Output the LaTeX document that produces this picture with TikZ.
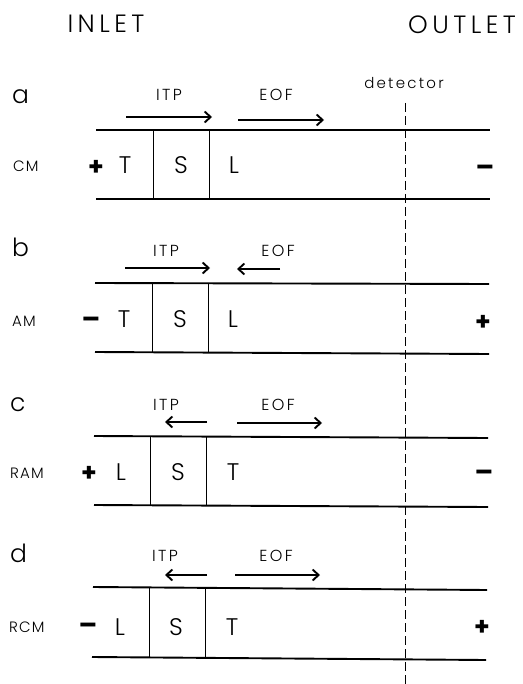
\documentclass[tikz,border=0pt]{standalone}
\usepackage{fontspec}
\setmainfont{Poppins}[UprightFont={* Light},BoldFont={* Bold}]
\usetikzlibrary{arrows.meta}

\begin{document}
\begin{tikzpicture}[x=1pt,y=-1pt,
  tube/.style={line width=1.9pt},
  zone/.style={line width=0.7pt},
  flow/.style={line width=1.9pt,-{Straight Barb[length=6pt,width=11pt,line width=1.9pt]}},
  probe/.style={line width=0.6pt,dash pattern=on 9pt off 4pt},
  head/.style={anchor=base,inner sep=0pt,font=\fontsize{25}{28}\selectfont\addfontfeature{LetterSpace=18}},
  panel/.style={anchor=base west,inner sep=0pt,font=\fontsize{25}{28}\selectfont},
  mode/.style={anchor=base west,inner sep=0pt,font=\fontsize{15}{16}\selectfont\addfontfeature{LetterSpace=8}},
  tag/.style={anchor=base,inner sep=0pt,font=\fontsize{16}{18}\selectfont\addfontfeature{LetterSpace=15}},
  ion/.style={anchor=base,inner sep=0pt,font=\fontsize{24}{28}\selectfont},
  possign/.style={anchor=base,inner sep=0pt,font=\bfseries\fontsize{25}{26}\selectfont},
  negsign/.style={anchor=base,inner sep=0pt,font=\bfseries\fontsize{27}{28}\selectfont},
  probetext/.style={anchor=base,inner sep=0pt,font=\fontsize{15}{16}\selectfont\addfontfeature{LetterSpace=15}}]

\useasboundingbox (0,0) rectangle (522,684);

% headings
\node[head] (inlet) at (106,33) {INLET};
\node[head] (outlet) at (462,34) {OUTLET};

% detector position
\node[probetext] (det) at (404,89) {detector};
\coordinate (detend) at (405,684);
\draw[probe] (405,103) -- (detend);

% ---------------- panel a ----------------
\coordinate (aTL) at (96,130);  \coordinate (aTR) at (490,130);
\coordinate (aBL) at (96,199);  \coordinate (aBR) at (490,199);
\draw[tube] (aTL) -- (aTR);
\draw[tube] (aBL) -- (aBR);
\draw[zone] (153,130) -- (153,199);
\draw[zone] (209,130) -- (209,199);
\node[panel] (alab) at (12,104) {a};
\node[mode] (amode) at (13,172) {CM};
\node[possign] (apos) at (96,176) {+};
\node[negsign] (aneg) at (485,177) {–};
\node[ion] (aT) at (125,174) {T};
\node[ion] (aS) at (181,174) {S};
\node[ion] (aL) at (234,174) {L};
\node[tag] (aitp) at (169,101) {ITP};
\node[tag] (aeof) at (276,101) {EOF};
\coordinate (aI0) at (126,117); \coordinate (aI1) at (212,117);
\coordinate (aE0) at (238,120); \coordinate (aE1) at (324,120);
\draw[flow] (aI0) -- (aI1);
\draw[flow] (aE0) -- (aE1);

% ---------------- panel b ----------------
\coordinate (bTL) at (95,283);  \coordinate (bTR) at (489,284);
\coordinate (bBL) at (95,352);  \coordinate (bBR) at (489,354);
\draw[tube] (bTL) -- (bTR);
\draw[tube] (bBL) -- (bBR);
\draw[zone] (152,283) -- (152,352);
\draw[zone] (208,283) -- (208,353);
\node[panel] (blab) at (12,257) {b};
\node[mode] (bmode) at (12,326) {AM};
\node[negsign] (bneg) at (91,328) {–};
\node[possign] (bpos) at (483,330) {+};
\node[ion] (bT) at (124,327) {T};
\node[ion] (bS) at (180,327) {S};
\node[ion] (bL) at (233,327) {L};
\node[tag] (bitp) at (166,256) {ITP};
\node[tag] (beof) at (278,256) {EOF};
\coordinate (bI0) at (125,268); \coordinate (bI1) at (210,268);
\coordinate (bE0) at (280,269); \coordinate (bE1) at (237,269);
\draw[flow] (bI0) -- (bI1);
\draw[flow] (bE0) -- (bE1);

% ---------------- panel c ----------------
\coordinate (cTL) at (94,436);  \coordinate (cTR) at (488,438);
\coordinate (cBL) at (94,505);  \coordinate (cBR) at (488,507);
\draw[tube] (cTL) -- (cTR);
\draw[tube] (cBL) -- (cBR);
\draw[zone] (150,436) -- (150,505);
\draw[zone] (206,437) -- (206,506);
\node[panel] (clab) at (10,411) {c};
\node[mode] (cmode) at (10,478) {RAM};
\node[possign] (cpos) at (89,481) {+};
\node[negsign] (cneg) at (484,481) {–};
\node[ion] (cL) at (121,480) {L};
\node[ion] (cS) at (178,480) {S};
\node[ion] (cT) at (233,480) {T};
\node[tag] (citp) at (166,410) {ITP};
\node[tag] (ceof) at (278,410) {EOF};
\coordinate (cI0) at (207,422); \coordinate (cI1) at (165,422);
\coordinate (cE0) at (237,423); \coordinate (cE1) at (322,423);
\draw[flow] (cI0) -- (cI1);
\draw[flow] (cE0) -- (cE1);

% ---------------- panel d ----------------
\coordinate (dTL) at (93,587);  \coordinate (dTR) at (487,590);
\coordinate (dBL) at (92,657);  \coordinate (dBR) at (486,660);
\draw[tube] (dTL) -- (dTR);
\draw[tube] (dBL) -- (dBR);
\draw[zone] (149,588) -- (149,657);
\draw[zone] (205,589) -- (205,658);
\node[panel] (dlab) at (10,562) {d};
\node[mode] (dmode) at (9,632) {RCM};
\node[negsign] (dneg) at (88,634) {–};
\node[possign] (dpos) at (482,635) {+};
\node[ion] (dL) at (120,635) {L};
\node[ion] (dS) at (176,635) {S};
\node[ion] (dT) at (232,635) {T};
\node[tag] (ditp) at (165,561) {ITP};
\node[tag] (deof) at (276,561) {EOF};
\coordinate (dI0) at (207,575); \coordinate (dI1) at (165,575);
\coordinate (dE0) at (235,575); \coordinate (dE1) at (320,575);
\draw[flow] (dI0) -- (dI1);
\draw[flow] (dE0) -- (dE1);

\end{tikzpicture}
\end{document}
